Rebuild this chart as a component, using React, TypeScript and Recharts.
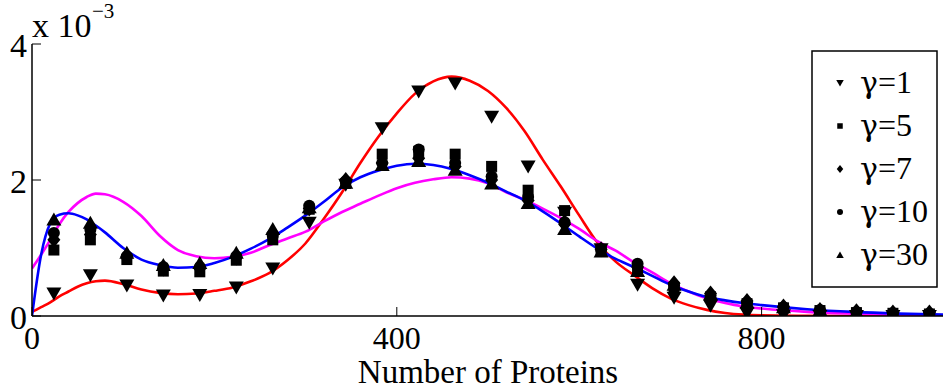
import React from "react";
import { ComposedChart, Line, Scatter, XAxis, YAxis } from "recharts";

// sample positions of the fitted curves (number of proteins)
const curveX = [0, 10, 20, 30, 40, 50, 60, 70, 80, 100, 120, 140, 160, 180, 200, 220, 240, 260, 280, 300, 320, 340, 360, 380, 400, 420, 440, 460, 480, 500, 520, 540, 560, 580, 600, 620, 640, 660, 680, 700, 720, 740, 760, 780, 800, 850, 900, 950, 1000];

// fitted curves, values in units of 1e-3
const redFit = [0.06, 0.13, 0.2, 0.29, 0.36, 0.43, 0.48, 0.51, 0.52, 0.47, 0.39, 0.34, 0.32, 0.33, 0.37, 0.42, 0.51, 0.63, 0.82, 1.07, 1.43, 1.82, 2.25, 2.64, 2.98, 3.27, 3.45, 3.52, 3.46, 3.31, 3.06, 2.72, 2.3, 1.9, 1.48, 1.08, 0.8, 0.6, 0.41, 0.26, 0.16, 0.09, 0.045, 0.02, 0.01, 0.003, 0, 0, 0];
const blueFit = [0, 0.9, 1.36, 1.49, 1.51, 1.48, 1.42, 1.33, 1.23, 1.0, 0.83, 0.75, 0.71, 0.72, 0.78, 0.87, 0.99, 1.13, 1.3, 1.48, 1.68, 1.89, 2.04, 2.14, 2.21, 2.24, 2.22, 2.16, 2.07, 1.96, 1.83, 1.7, 1.54, 1.36, 1.17, 0.99, 0.84, 0.72, 0.59, 0.46, 0.36, 0.28, 0.23, 0.19, 0.16, 0.1, 0.06, 0.035, 0.02];
const magentaFit = [0.7, 0.9, 1.12, 1.35, 1.53, 1.66, 1.75, 1.8, 1.79, 1.68, 1.47, 1.18, 0.97, 0.88, 0.85, 0.87, 0.93, 1.04, 1.14, 1.24, 1.39, 1.53, 1.65, 1.77, 1.88, 1.96, 2.01, 2.04, 2.02, 1.95, 1.82, 1.71, 1.58, 1.44, 1.28, 1.1, 0.96, 0.79, 0.64, 0.48, 0.36, 0.26, 0.19, 0.14, 0.11, 0.06, 0.035, 0.02, 0.01];

// simulated histograms
const dotX = [24, 64, 104, 144, 184, 224, 264, 304, 344, 384, 424, 464, 504, 544, 584, 624, 664, 704, 744, 784, 824, 864, 904, 944, 984];
const gamma1 = [0.33, 0.6, 0.45, 0.3, 0.31, 0.42, 0.7, 1.37, 1.93, 2.76, 3.3, 3.42, 2.93, 2.2, 1.52, 0.98, 0.46, 0.27, 0.15, 0.04, 0.01, 0, 0, 0, 0];
const gamma5 = [0.97, 1.12, 0.83, 0.66, 0.65, 0.82, 1.12, 1.57, 1.95, 2.38, 2.42, 2.38, 2.2, 1.85, 1.55, 0.97, 0.68, 0.42, 0.28, 0.18, 0.12, 0.08, 0.05, 0.04, 0.03];
const gamma7 = [1.12, 1.2, 0.88, 0.7, 0.7, 0.86, 1.22, 1.58, 2.0, 2.25, 2.32, 2.2, 2.0, 1.7, 1.35, 0.98, 0.72, 0.48, 0.33, 0.22, 0.14, 0.09, 0.07, 0.05, 0.05];
const gamma10 = [1.22, 1.27, 0.88, 0.72, 0.72, 0.88, 1.18, 1.62, 1.98, 2.25, 2.45, 2.25, 2.05, 1.75, 1.38, 0.98, 0.77, 0.45, 0.3, 0.2, 0.13, 0.09, 0.06, 0.04, 0.03];
const gamma30 = [1.42, 1.37, 0.93, 0.75, 0.78, 0.93, 1.28, 1.6, 1.96, 2.22, 2.28, 2.15, 1.95, 1.66, 1.28, 0.95, 0.66, 0.46, 0.32, 0.2, 0.13, 0.09, 0.06, 0.04, 0.03];

const xTicks = [0, 400, 800];
const yTicks = [0, 2, 4];
const legendValues = ["1", "5", "7", "10", "30"];

const FONT = "Liberation Serif, Times New Roman, serif";
const GREEK = "DejaVu Serif, serif";

const toPoints = (xs: number[], ys: number[]) => xs.map((x, i) => ({ x, y: ys[i] }));

type Kind = "down" | "square" | "diamond" | "circle" | "up";
const kinds: Kind[] = ["down", "square", "diamond", "circle", "up"];

function Marker({ kind, cx, cy, s = 1 }: { kind: Kind; cx: number; cy: number; s?: number }) {
  if (cx == null || cy == null) return null;
  switch (kind) {
    case "down":
      return <path d={`M${cx - 7.5 * s},${cy - 6 * s}L${cx + 7.5 * s},${cy - 6 * s}L${cx},${cy + 7 * s}Z`} fill="#000" />;
    case "up":
      return <path d={`M${cx - 7.5 * s},${cy + 6 * s}L${cx + 7.5 * s},${cy + 6 * s}L${cx},${cy - 7 * s}Z`} fill="#000" />;
    case "square":
      return <rect x={cx - 5.5 * s} y={cy - 5.5 * s} width={11 * s} height={11 * s} fill="#000" />;
    case "diamond":
      return <path d={`M${cx},${cy - 8 * s}L${cx + 6.5 * s},${cy}L${cx},${cy + 8 * s}L${cx - 6.5 * s},${cy}Z`} fill="#000" />;
    default:
      return <circle cx={cx} cy={cy} r={6 * s} fill="#000" />;
  }
}

const BottomTick = ({ x, y, payload }: any) => (
  <g>
    <line x1={x} y1={y} x2={x} y2={y - 9} stroke="#000" strokeWidth={1} />
    <text x={x} y={y + 33} textAnchor="middle" fontSize={32} fontFamily={FONT} fill="#000">
      {payload.value}
    </text>
  </g>
);

const TopTick = ({ x, y }: any) => <line x1={x} y1={y} x2={x} y2={y + 9} stroke="#000" strokeWidth={1} />;

const LeftTick = ({ x, y, payload }: any) => (
  <g>
    <line x1={x} y1={y} x2={x + 9} y2={y} stroke="#000" strokeWidth={1} />
    <text x={x - 5} y={y + 13} textAnchor="end" fontSize={34} fontFamily={FONT} fill="#000">
      {payload.value}
    </text>
  </g>
);

const RightTick = ({ x, y }: any) => <line x1={x} y1={y} x2={x - 9} y2={y} stroke="#000" strokeWidth={1} />;

const series = [gamma1, gamma5, gamma7, gamma10, gamma30];

export default function App() {
  const axisLine = { stroke: "#000", strokeWidth: 1.5 };
  return (
    <div style={{ position: "absolute", left: 0, top: 0, width: 943, height: 391, overflow: "hidden", background: "#fff" }}>
      <ComposedChart width={960} height={391} margin={{ top: 44, right: 16, bottom: 0, left: 0 }}>
        <XAxis
          dataKey="x"
          type="number"
          domain={[0, 1000]}
          ticks={xTicks}
          interval={0}
          height={75}
          tickSize={0}
          tickMargin={0}
          tickLine={false}
          axisLine={axisLine}
          tick={<BottomTick />}
          allowDataOverflow
          label={{ value: "Number of Proteins", position: "insideBottom", offset: 8, fontSize: 33, fontFamily: FONT, fill: "#000" }}
        />
        <XAxis
          xAxisId="top"
          orientation="top"
          dataKey="x"
          type="number"
          domain={[0, 1000]}
          ticks={xTicks}
          interval={0}
          height={0}
          tickSize={0}
          tickMargin={0}
          tickLine={false}
          axisLine={axisLine}
          tick={<TopTick />}
          allowDataOverflow
        />
        <YAxis
          dataKey="y"
          type="number"
          domain={[0, 4]}
          ticks={yTicks}
          interval={0}
          width={32}
          tickSize={0}
          tickMargin={0}
          tickLine={false}
          axisLine={axisLine}
          tick={<LeftTick />}
          allowDataOverflow
        />
        <YAxis
          yAxisId="right"
          orientation="right"
          dataKey="y"
          type="number"
          domain={[0, 4]}
          ticks={yTicks}
          interval={0}
          width={0}
          tickSize={0}
          tickMargin={0}
          tickLine={false}
          axisLine={axisLine}
          tick={<RightTick />}
          allowDataOverflow
        />
        {series.map((ys, i) => (
          <Scatter
            key={legendValues[i]}
            name={`γ=${legendValues[i]}`}
            data={toPoints(dotX, ys)}
            dataKey="y"
            isAnimationActive={false}
            shape={(p: any) => <Marker kind={kinds[i]} cx={p.cx} cy={p.cy} />}
          />
        ))}
        <Line data={toPoints(curveX, redFit)} dataKey="y" type="monotone" stroke="#ff0000" strokeWidth={2.6} dot={false} isAnimationActive={false} />
        <Line data={toPoints(curveX, magentaFit)} dataKey="y" type="monotone" stroke="#ff00ff" strokeWidth={2.6} dot={false} isAnimationActive={false} />
        <Line data={toPoints(curveX, blueFit)} dataKey="y" type="monotone" stroke="#0000ff" strokeWidth={2.6} dot={false} isAnimationActive={false} />
      </ComposedChart>

      {/* exponent of the y axis */}
      <svg width={200} height={44} style={{ position: "absolute", left: 0, top: 0 }}>
        <text x={32} y={37} fontSize={34} fontFamily={FONT} fill="#000">x 10</text>
        <text x={92} y={18} fontSize={21} fontFamily={FONT} fill="#000">−3</text>
      </svg>

      {/* legend */}
      <svg width={127} height={238} style={{ position: "absolute", left: 811, top: 50 }}>
        <rect x={1} y={1} width={125} height={236} fill="#fff" stroke="#000" strokeWidth={1.5} />
        {legendValues.map((v, i) => {
          const cy = 33 + i * 43;
          return (
            <g key={v}>
              <Marker kind={kinds[i]} cx={29} cy={cy} s={0.5} />
              <text x={49} y={cy + 10} fontSize={32} fontFamily={FONT} fill="#000">
                <tspan fontFamily={GREEK} fontSize={30}>γ</tspan>
                <tspan>={v}</tspan>
              </text>
            </g>
          );
        })}
      </svg>
    </div>
  );
}
